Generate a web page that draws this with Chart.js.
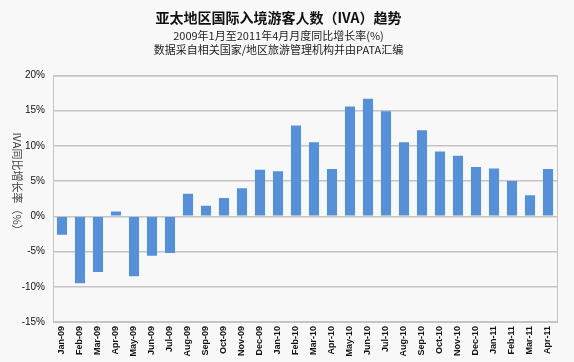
<!DOCTYPE html>
<html>
<head>
<meta charset="utf-8">
<script src="https://cdn.jsdelivr.net/npm/chart.js@4/dist/chart.umd.min.js"></script>
<style>
  html, body { margin: 0; padding: 0; background: #f8f8f8; }
  #wrap { width: 574px; height: 362px; }
</style>
</head>
<body>
<div id="wrap"><canvas id="chart" width="574" height="362"></canvas></div>
<script>
// chart data
var months = ['Jan-09','Feb-09','Mar-09','Apr-09','May-09','Jun-09','Jul-09','Aug-09','Sep-09','Oct-09',
  'Nov-09','Dec-09','Jan-10','Feb-10','Mar-10','Apr-10','May-10','Jun-10','Jul-10','Aug-10',
  'Sep-10','Oct-10','Nov-10','Dec-10','Jan-11','Feb-11','Mar-11','Apr-11'];
var growth = [-2.6, -9.5, -7.9, 0.7, -8.5, -5.6, -5.2, 3.2, 1.5, 2.6,
  4.0, 6.6, 6.4, 12.9, 10.5, 6.7, 15.6, 16.7, 14.9, 10.5,
  12.2, 9.2, 8.6, 7.0, 6.8, 5.0, 3.0, 6.7];
var yTicks = [-15, -10, -5, 0, 5, 10, 15, 20];

var titleText = '亚太地区国际入境游客人数（IVA）趋势';
var subtitleLines = ['2009年1月至2011年4月月度同比增长率(%)', '数据采自相关国家/地区旅游管理机构并由PATA汇编'];
var yTitle = 'IVA同比增长率（%）';

Chart.defaults.font.family = 'Arial, "Liberation Sans", "Noto Sans CJK SC", sans-serif';
Chart.defaults.color = '#222';

//box around the plot + rotated axis title
var boxPlugin = {
  id: 'box',
  afterDraw: function (chart) {
    var a = chart.chartArea;
    var ctx = chart.ctx;
    ctx.save();
    ctx.strokeStyle = '#c4c4c4';
    ctx.lineWidth = 1;
    ctx.strokeRect(a.left + 0.5, a.top + 0.5, a.right - a.left, a.bottom - a.top);
    ctx.translate(17, 184);
    ctx.rotate(Math.PI / 2);
    ctx.fillStyle = '#444';
    ctx.font = '11px "Noto Sans CJK SC", Arial, sans-serif';
    ctx.textAlign = 'center';
    ctx.textBaseline = 'middle';
    ctx.fillText(yTitle, 0, 0);
    ctx.restore();
  }
};

var ctx = document.getElementById('chart').getContext('2d');
var myChart = new Chart(ctx, {
  type: 'bar',
  data: {
    labels: months,
    datasets: [{
      data: growth,
      backgroundColor: '#5590DB',
      borderWidth: 0,
      barPercentage: 0.56,
      categoryPercentage: 1
    }]
  },
  options: {
    responsive: false,
    animation: false,
    layout: { padding: { left: 0, right: 17, top: 0, bottom: 0 } },
    plugins: {
      legend: { display: false },
      tooltip: { enabled: false },
      title: {
        display: true,
        text: titleText,
        color: '#111',
        font: { size: 14, weight: 'bold', family: '"Noto Sans CJK SC", Arial, sans-serif' },
        padding: { top: 9, bottom: 3 }
      },
      subtitle: {
        display: true,
        text: subtitleLines,
        color: '#222',
        font: { size: 11, lineHeight: 1.3, family: '"Noto Sans CJK SC", Arial, sans-serif' },
        padding: { top: 0, bottom: 18 }
      }
    },
    scales: {
      x: {
        grid: { display: false, drawTicks: false },
        border: { color: '#c4c4c4' },
        ticks: {
          autoSkip: false,
          maxRotation: 90,
          minRotation: 90,
          color: '#111',
          font: { size: 9, weight: 'bold' },
          padding: 4
        },
        afterFit: function (scale) { scale.height = 40; }
      },
      y: {
        min: -15,
        max: 20,
        afterBuildTicks: function (scale) {
          scale.ticks = yTicks.map(function (v) { return { value: v }; });
        },
        grid: { color: '#c4c4c4', lineWidth: 1.5, drawTicks: false },
        border: { color: '#c4c4c4' },
        ticks: {
          color: '#111',
          font: { size: 10 },
          padding: 8,
          callback: function (v) { return v + '%'; }
        },
        afterFit: function (scale) { scale.width = 53; }
      }
    }
  },
  plugins: [boxPlugin]
});
</script>
</body>
</html>
